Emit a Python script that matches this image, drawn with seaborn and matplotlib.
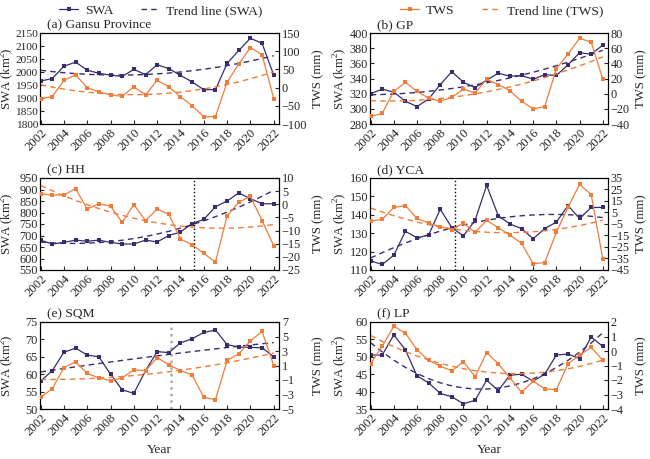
import numpy as np
import pandas as pd
import matplotlib
matplotlib.use("Agg")
import matplotlib.pyplot as plt
from matplotlib.lines import Line2D
import seaborn as sns

years = list(range(2002, 2023))

titles = ["(a) Gansu Province", "(b) GP", "(c) HH", "(d) YCA", "(e) SQM", "(f) LP"]

swa_a = [1965, 1975, 2022, 2038, 2007, 1995, 1988, 1983, 2010, 1990, 2028, 2013, 1987, 1962, 1932, 1932, 2033, 2083, 2130, 2110, 1988]
tws_a = [-30, -25, 20, 35, 0, -12, -20, -24, 2, -20, 20, 2, -25, -50, -80, -80, 15, 65, 110, 90, -30]

swa_b = [320, 326, 322, 310, 303, 313, 332, 349, 335, 328, 338, 347, 343, 344, 339, 345, 344, 358, 374, 372, 384]
tws_b = [-30, -26, 3, 15, 3, -6, -10, -5, 6, 1, 19, 12, 4, -10, -20, -17, 33, 52, 73, 68, 19]

swa_c = [680, 663, 670, 680, 675, 680, 670, 663, 663, 680, 672, 700, 715, 752, 770, 825, 850, 885, 860, 838, 838]
tws_c = [4.0, 3.5, 3.5, 6.0, -1.8, 0.2, -0.7, -6.9, -0.1, -6.2, -1.8, -3.8, -13.2, -15.4, -18.7, -22.0, -4.4, 0.8, 3.0, -6.2, -15.8]

swa_d = [115, 113, 118, 131, 127.5, 129, 143, 133, 128.5, 137, 156, 139.5, 135, 132.5, 127, 132.5, 136, 145, 138, 144, 144]
tws_d = [-2.6, -1.0, 9.4, 11.0, -0.2, -4.2, -7.4, -9.8, -4.2, -12.2, -1.8, -8.2, -14.6, -21.8, -39.4, -38.6, -12.2, 9.4, 29.4, 20.6, -35.4]

swa_e = [58, 61, 66.3, 67.5, 65.5, 65, 60, 55.5, 54.5, 61, 66.5, 66.2, 69, 70.2, 72, 72.7, 68.5, 67.8, 67.7, 67.6, 65]
tws_e = [-3.4, -2.2, 0.7, 1.5, -0.1, -0.7, -1.1, -0.7, 0.4, 0.3, 2.1, 1.1, 0.3, -0.3, -3.4, -3.7, 1.7, 2.6, 4.4, 5.7, 1.0]

swa_f = [50.5, 50.5, 56.3, 52, 44.5, 42.5, 39.5, 38.5, 36.5, 37.5, 43.3, 40.3, 44.7, 45, 43, 45, 50.5, 50.8, 49.5, 55.7, 53]
tws_f = [-0.88, 0.32, 1.71, 1.23, 0.08, -0.64, -1.05, -1.36, -0.74, -1.77, -0.11, -0.88, -1.84, -2.85, -2.08, -2.6, -2.68, -0.88, -0.28, 0.25, -0.64]

swa_all = [swa_a, swa_b, swa_c, swa_d, swa_e, swa_f]
tws_all = [tws_a, tws_b, tws_c, tws_d, tws_e, tws_f]

swa_ticks = [(1800, 2150, 50), (280, 400, 20), (550, 950, 50), (110, 160, 10), (50, 75, 5), (35, 60, 5)]
tws_ticks = [(-100, 150, 50), (-40, 80, 20), (-25, 10, 5), (-45, 35, 10), (-5, 7, 2), (-4, 2, 1)]

vlines = {2: (2015.2, "black"), 3: (2009.3, "black"), 4: (2013.2, "#aaaaaa")}

C_SWA = "#3a2c6e"
C_TWS = "#f07c3a"

sns.set_theme(style="ticks")
plt.rcParams["font.family"] = ["Liberation Serif", "DejaVu Serif"]
plt.rcParams["mathtext.fontset"] = "custom"
plt.rcParams["mathtext.rm"] = "Liberation Serif"
plt.rcParams["font.size"] = 9
fs = 9.2
fs_y = 8.8

fig = plt.figure(figsize=(6.5, 4.59), dpi=100)

W = 650.0
H = 459.0
cols = [(40, 279), (370, 608)]
rows = [(33, 124), (178, 270), (322, 409)]
ylab_x = [7, 340]
ylab2_x = [318, 641]

for i in range(6):
    r, c = divmod(i, 2)
    x0, x1 = cols[c]
    y0, y1 = rows[r]
    ax = fig.add_axes([x0 / W, 1 - y1 / H, (x1 - x0) / W, (y1 - y0) / H])
    ax2 = ax.twinx()
    df = pd.DataFrame({"Year": years, "SWA": swa_all[i], "TWS": tws_all[i]})
    yr = np.array(years, dtype=float)
    df["SWA_trend"] = np.polyval(np.polyfit(yr, df["SWA"], 2), yr)
    df["TWS_trend"] = np.polyval(np.polyfit(yr, df["TWS"], 2), yr)

    sns.lineplot(data=df, x="Year", y="SWA", ax=ax, color=C_SWA, marker="s",
                 markersize=3.0, markeredgewidth=0, lw=0.9, zorder=3)
    sns.lineplot(data=df, x="Year", y="SWA_trend", ax=ax, color=C_SWA, lw=1.0,
                 linestyle=(0, (4, 3)), zorder=2)
    sns.lineplot(data=df, x="Year", y="TWS", ax=ax2, color=C_TWS, marker="s",
                 markersize=3.0, markeredgewidth=0, lw=0.9, zorder=3)
    sns.lineplot(data=df, x="Year", y="TWS_trend", ax=ax2, color=C_TWS, lw=1.0,
                 linestyle=(0, (4, 3)), zorder=2)

    if i in vlines:
        xv, cv = vlines[i]
        ax.axvline(xv, color=cv, ls=":", lw=1.0 if cv == "black" else 1.8, zorder=1)

    lo, hi, st = swa_ticks[i]
    ax.set_ylim(lo, hi)
    ax.set_yticks(np.arange(lo, hi + st / 2, st))
    lo2, hi2, st2 = tws_ticks[i]
    ax2.set_ylim(lo2, hi2)
    ax2.set_yticks(np.arange(lo2, hi2 + st2 / 2, st2))

    ax.set_xlim(2001.95, 2022.45)
    ax.set_xticks(years[::2])
    ax.set_xticklabels([str(y) for y in years[::2]], rotation=45, ha="right",
                       rotation_mode="anchor", fontsize=fs)
    ax.tick_params(axis="x", direction="in", labelsize=fs, length=3, width=0.8, pad=2)
    ax.tick_params(axis="y", direction="in", labelsize=(8.2 if i == 0 else fs_y),
                   length=3, width=0.8, pad=1.5)
    ax2.tick_params(axis="y", direction="in", labelsize=fs_y, length=3, width=0.8, pad=2)

    ax.set_ylabel("SWA (km$^2$)", fontsize=fs)
    ax2.set_ylabel("TWS (mm)", fontsize=fs)
    ax.yaxis.label.set_va("center")
    ax2.yaxis.label.set_va("center")
    wpx = x1 - x0
    ax.yaxis.set_label_coords((ylab_x[c] - x0) / wpx, 0.5)
    ax2.yaxis.set_label_coords((ylab2_x[c] - x0) / wpx, 0.5)
    if r == 2:
        ax.set_xlabel("Year", fontsize=fs + 0.5, labelpad=4)
    else:
        ax.set_xlabel("")
    for sp in list(ax.spines.values()) + list(ax2.spines.values()):
        sp.set_linewidth(0.8)
        sp.set_color("black")
    ax.text(0.03, 1.02, titles[i], transform=ax.transAxes, fontsize=fs + 0.5,
            ha="left", va="bottom")

h1 = [Line2D([], [], color=C_SWA, marker="s", markersize=3.0, lw=0.9, markeredgewidth=0),
      Line2D([], [], color=C_SWA, lw=1.0, linestyle=(0, (4, 3)))]
h2 = [Line2D([], [], color=C_TWS, marker="s", markersize=3.0, lw=0.9, markeredgewidth=0),
      Line2D([], [], color=C_TWS, lw=1.0, linestyle=(0, (4, 3)))]
fig.legend(h1, ["SWA", "Trend line (SWA)"], loc="center", bbox_to_anchor=(161 / W, 1 - 11 / H),
           ncol=2, frameon=False, fontsize=fs + 0.5, handlelength=1.4, handletextpad=0.5,
           columnspacing=2.0, borderpad=0)
fig.legend(h2, ["TWS", "Trend line (TWS)"], loc="center", bbox_to_anchor=(502 / W, 1 - 11 / H),
           ncol=2, frameon=False, fontsize=fs + 0.5, handlelength=1.4, handletextpad=0.5,
           columnspacing=2.0, borderpad=0)

fig.savefig("out.png", dpi=100)
